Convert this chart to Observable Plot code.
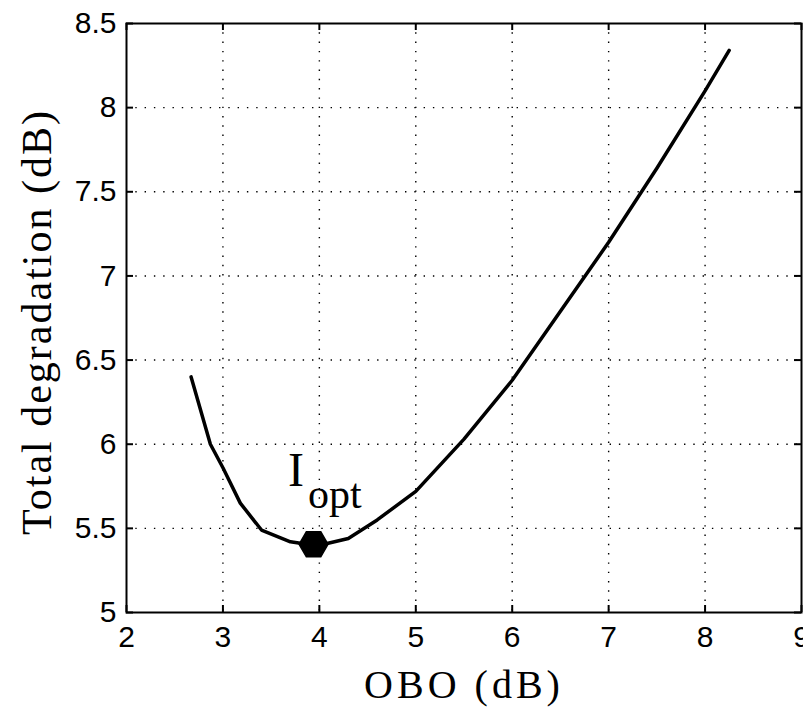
<!DOCTYPE html>
<html>
<head>
<meta charset="utf-8">
<script src="https://cdn.jsdelivr.net/npm/d3@7"></script>
<script src="https://cdn.jsdelivr.net/npm/@observablehq/plot@0.6"></script>
<style>
  html, body { margin: 0; padding: 0; background: #fff; }
  #chart svg { display: block; }
</style>
</head>
<body>
<div id="chart"></div>
<script>
// ---- data ----
const obo = [2.67, 2.87, 3.0, 3.18, 3.4, 3.7, 3.94, 4.08, 4.3, 4.6, 5.0, 5.5, 6.0, 6.5, 7.0, 7.5, 8.0, 8.25];
const degradation = [6.40, 6.00, 5.86, 5.65, 5.49, 5.42, 5.40, 5.41, 5.44, 5.55, 5.72, 6.03, 6.38, 6.79, 7.20, 7.64, 8.10, 8.34];
const optOBO = [3.94];
const optDeg = [5.405];
const optMain = ["I"];
const optMainPos = [[3.675, 5.753]];
const optSub = ["opt"];
const optSubPos = [[3.883, 5.622]];
const xTicks = [2, 3, 4, 5, 6, 7, 8, 9];
const yTicks = [5, 5.5, 6, 6.5, 7, 7.5, 8, 8.5];
const xGrid = [3, 4, 5, 6, 7, 8];
const yGrid = [5.5, 6, 6.5, 7, 7.5, 8];
const xDomain = [2, 9];
const yDomain = [5, 8.5];
const xLabel = ["OBO (dB)"];
const yLabel = ["Total degradation (dB)"];

const data = obo.map((x, i) => ({x, y: degradation[i]}));

// ---- layout ----
const W = 803, H = 711;
const mL = 126, mR = 2, mT = 23, mB = 99;
const fw = W - mL - mR, fh = H - mT - mB;
const tick = 7;
const serif = "'Liberation Serif', 'Times New Roman', serif";
const sans = "'Liberation Sans', Arial, sans-serif";

const grid = {stroke: "black", strokeOpacity: 1, strokeWidth: 1.4, strokeDasharray: "1.4,7.9"};

const chart = Plot.plot({
  width: W,
  height: H,
  marginLeft: mL,
  marginRight: mR,
  marginTop: mT,
  marginBottom: mB,
  style: {fontFamily: sans, background: "white", color: "black", overflow: "visible"},
  x: {domain: xDomain},
  y: {domain: yDomain},
  marks: [
    Plot.gridX(xGrid, {...grid}),
    Plot.gridY(yGrid, {...grid}),
    // inward ticks on all four sides
    Plot.tickX(xTicks, {x: d => d, stroke: "black", strokeWidth: 2, insetTop: fh - tick}),
    Plot.tickX(xTicks, {x: d => d, stroke: "black", strokeWidth: 2, insetBottom: fh - tick}),
    Plot.tickY(yTicks, {y: d => d, stroke: "black", strokeWidth: 2, insetRight: fw - tick}),
    Plot.tickY(yTicks, {y: d => d, stroke: "black", strokeWidth: 2, insetLeft: fw - tick}),
    Plot.frame({stroke: "black", strokeWidth: 2}),
    Plot.axisX({ticks: xTicks, tickSize: 0, tickPadding: 13, fontSize: 30, fontFamily: sans, label: null, tickFormat: d => String(d)}),
    Plot.axisY({ticks: yTicks, tickSize: 0, tickPadding: 10, fontSize: 30, fontFamily: sans, label: null, tickFormat: d => String(d)}),
    Plot.line(data, {x: "x", y: "y", stroke: "black", strokeWidth: 3.5, strokeLinejoin: "round"}),
    Plot.dot(optOBO, {x: d => d, y: (d, i) => optDeg[i], symbol: "hexagon", rotate: 90, r: 12.5, fill: "black", stroke: "black"}),
    Plot.text(optMain, {x: (d, i) => optMainPos[i][0], y: (d, i) => optMainPos[i][1], text: d => d, textAnchor: "start", lineAnchor: "bottom", fontFamily: serif, fontSize: 48, fill: "black"}),
    Plot.text(optSub, {x: (d, i) => optSubPos[i][0], y: (d, i) => optSubPos[i][1], text: d => d, textAnchor: "start", lineAnchor: "bottom", fontFamily: serif, fontSize: 42, fill: "black"}),
    Plot.text(xLabel, {text: d => d, frameAnchor: "bottom", textAnchor: "middle", lineAnchor: "bottom", dy: 85, dx: 0, fontFamily: serif, fontSize: 40, fill: "black"}),
    Plot.text(yLabel, {text: d => d, frameAnchor: "left", textAnchor: "middle", rotate: -90, lineAnchor: "bottom", dx: -76, dy: 4, fontFamily: serif, fontSize: 42, fill: "black"})
  ]
});
d3.select(chart).selectAll("text").filter(function() { return this.textContent === xLabel[0]; }).attr("letter-spacing", 4);
d3.select(chart).selectAll("text").filter(function() { return this.textContent === yLabel[0]; }).attr("letter-spacing", 2);
document.getElementById("chart").appendChild(chart);
</script>
</body>
</html>
